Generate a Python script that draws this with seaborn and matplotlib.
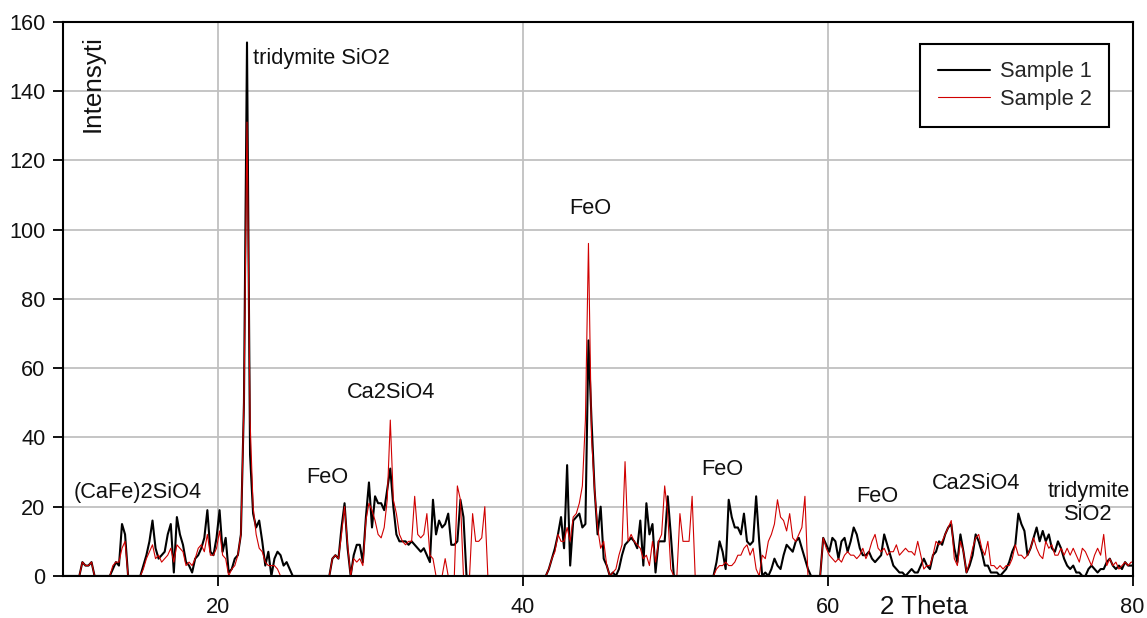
import numpy as np
import pandas as pd
import matplotlib
matplotlib.use("Agg")
import matplotlib.pyplot as plt
import seaborn as sns

# Scan grid (degrees 2θ, 0.2° step)
two_theta = np.round(np.arange(9.9, 80.11, 0.2), 1)

# Diffracted intensity, one value per grid step (rows of ten cover 2° each)
sample_1 = [
    0,
    0, 0, 0, 0, 0, 4, 3, 3, 4, 0,             # 10.1-11.9
    0, 0, 0, 0, 0, 2, 4, 3, 15, 12,           # 12.1-13.9
    0, 0, 0, 0, 0, 3, 6, 10, 16, 8,           # 14.1-15.9
    5, 6, 7, 12, 15, 1, 17, 12, 9, 4,         # 16.1-17.9
    3, 1, 5, 6, 8, 11, 19, 7, 6, 11,          # 18.1-19.9
    19, 7, 11, 1, 2, 5, 6, 12, 50, 154,       # 20.1-21.9
    35, 18, 14, 16, 10, 3, 7, 0, 5, 7,        # 22.1-23.9
    6, 3, 4, 2, 0, 0, 0, 0, 0, 0,             # 24.1-25.9
    0, 0, 0, 0, 0, 0, 0, 5, 6, 5,             # 26.1-27.9
    14, 21, 8, 0, 6, 9, 9, 4, 17, 27,         # 28.1-29.9
    14, 23, 21, 21, 19, 25, 31, 20, 12, 10,   # 30.1-31.9
    10, 10, 9, 10, 9, 8, 7, 8, 6, 4,          # 32.1-33.9
    22, 12, 16, 14, 15, 18, 9, 9, 10, 22,     # 34.1-35.9
    17, 0, 0, 0, 0, 0, 0, 0, 0, 0,            # 36.1-37.9
    0, 0, 0, 0, 0, 0, 0, 0, 0, 0,             # 38.1-39.9
    0, 0, 0, 0, 0, 0, 0, 0, 2, 5,             # 40.1-41.9
    8, 12, 17, 8, 32, 3, 16, 17, 18, 14,      # 42.1-43.9
    15, 68, 45, 25, 12, 20, 5, 3, 0, 1,       # 44.1-45.9
    0, 2, 6, 9, 10, 11, 10, 8, 16, 3,         # 46.1-47.9
    21, 12, 15, 1, 10, 10, 10, 23, 12, 0,     # 48.1-49.9
    0, 0, 0, 0, 0, 0, 0, 0, 0, 0,             # 50.1-51.9
    0, 0, 0, 4, 10, 7, 2, 22, 17, 14,         # 52.1-53.9
    14, 12, 18, 10, 9, 10, 23, 10, 0, 1,      # 54.1-55.9
    0, 2, 5, 3, 2, 6, 9, 8, 7, 10,            # 56.1-57.9
    11, 8, 5, 2, 0, 0, 0, 0, 11, 9,           # 58.1-59.9
    7, 11, 10, 5, 10, 11, 7, 10, 14, 12,      # 60.1-61.9
    8, 6, 6, 7, 5, 4, 5, 6, 12, 9,            # 62.1-63.9
    6, 3, 2, 1, 1, 0, 1, 2, 1, 1,             # 64.1-65.9
    3, 5, 3, 2, 6, 7, 10, 9, 12, 14,          # 66.1-67.9
    15, 8, 4, 12, 7, 1, 3, 6, 12, 10,         # 68.1-69.9
    7, 3, 3, 1, 1, 1, 0, 1, 2, 4,             # 70.1-71.9
    7, 9, 18, 15, 13, 6, 8, 11, 14, 10,       # 72.1-73.9
    13, 10, 12, 8, 7, 10, 8, 5, 3, 2,         # 74.1-75.9
    3, 1, 1, 0, 0, 2, 3, 2, 1, 2,             # 76.1-77.9
    2, 4, 5, 3, 2, 3, 2, 4, 3, 3,             # 78.1-79.9
    3,
]

sample_2 = [
    0,
    0, 0, 0, 0, 0, 4, 3, 3, 4, 0,             # 10.1-11.9
    0, 0, 0, 0, 0, 3, 4, 4, 8, 10,            # 12.1-13.9
    0, 0, 0, 0, 0, 2, 5, 7, 9, 5,             # 14.1-15.9
    6, 4, 5, 6, 8, 4, 9, 8, 7, 3,             # 16.1-17.9
    4, 3, 5, 8, 9, 7, 12, 6, 6, 8,            # 18.1-19.9
    13, 6, 5, 0, 2, 3, 6, 12, 50, 131,        # 20.1-21.9
    45, 20, 12, 8, 7, 4, 3, 3, 3, 2,          # 22.1-23.9
    0, 0, 0, 0, 0, 0, 0, 0, 0, 0,             # 24.1-25.9
    0, 0, 0, 0, 0, 0, 0, 5, 6, 5,             # 26.1-27.9
    12, 20, 9, 0, 5, 4, 5, 3, 16, 21,         # 28.1-29.9
    19, 16, 12, 11, 14, 22, 45, 22, 18, 12,   # 30.1-31.9
    10, 9, 10, 10, 23, 12, 11, 12, 18, 6,     # 32.1-33.9
    5, 0, 0, 0, 5, 0, 0, 0, 26, 22,           # 34.1-35.9
    0, 0, 0, 18, 10, 10, 11, 20, 0, 0,        # 36.1-37.9
    0, 0, 0, 0, 0, 0, 0, 0, 0, 0,             # 38.1-39.9
    0, 0, 0, 0, 0, 0, 0, 0, 2, 5,             # 40.1-41.9
    7, 12, 10, 10, 14, 10, 17, 18, 21, 26,    # 42.1-43.9
    45, 96, 40, 25, 14, 8, 10, 3, 0, 1,       # 44.1-45.9
    2, 6, 9, 33, 10, 12, 10, 9, 8, 5,         # 46.1-47.9
    6, 3, 10, 4, 10, 12, 26, 18, 2, 0,        # 48.1-49.9
    0, 18, 10, 10, 10, 23, 0, 0, 0, 0,        # 50.1-51.9
    0, 0, 0, 2, 3, 3, 4, 3, 3, 4,             # 52.1-53.9
    6, 6, 8, 9, 6, 8, 2, 0, 6, 5,             # 54.1-55.9
    10, 12, 15, 22, 17, 16, 13, 18, 11, 10,   # 56.1-57.9
    12, 14, 23, 0, 0, 0, 0, 0, 11, 8,         # 58.1-59.9
    6, 5, 4, 5, 4, 6, 7, 6, 6, 5,             # 60.1-61.9
    6, 8, 5, 7, 10, 12, 8, 7, 8, 6,           # 62.1-63.9
    7, 7, 9, 6, 7, 8, 7, 7, 6, 10,            # 64.1-65.9
    6, 2, 3, 3, 6, 10, 9, 10, 12, 14,         # 66.1-67.9
    16, 5, 3, 10, 7, 1, 4, 8, 11, 12,         # 68.1-69.9
    8, 6, 10, 3, 3, 2, 3, 2, 3, 3,            # 70.1-71.9
    5, 9, 6, 6, 5, 6, 8, 11, 8, 6,            # 72.1-73.9
    5, 10, 8, 9, 6, 6, 8, 6, 8, 6,            # 74.1-75.9
    8, 6, 4, 8, 7, 5, 3, 6, 8, 6,             # 76.1-77.9
    12, 3, 5, 3, 4, 2, 3, 4, 3, 4,            # 78.1-79.9
    4,
]

series_names = ["Sample 1", "Sample 2"]
series_colors = ["black", "#d00000"]
series_widths = [1.5, 0.8]

# Phase labels: text, 2θ position, intensity position, alignment
phase_labels = ["tridymite SiO2", "(CaFe)2SiO4", "FeO", "Ca2SiO4", "FeO",
                "FeO", "FeO", "Ca2SiO4", "tridymite\nSiO2"]
label_x = [22.28, 14.73, 27.2, 31.37, 44.39, 53.05, 63.27, 69.75, 77.1]
label_y = [149.4, 24.0, 28.3, 53.1, 106.2, 30.6, 22.9, 26.6, 21.1]
label_ha = ["left", "center", "center", "center", "center",
            "center", "center", "center", "center"]

x_ticks = [20, 40, 60, 80]
y_ticks = [0, 20, 40, 60, 80, 100, 120, 140, 160]

sns.set_style("white")
plt.rcParams["font.family"] = ["Liberation Sans", "DejaVu Sans"]

df = pd.DataFrame({
    "two_theta": np.concatenate([two_theta, two_theta]),
    "intensity": np.concatenate([sample_1, sample_2]),
    "sample": [series_names[0]] * len(two_theta) + [series_names[1]] * len(two_theta),
})

fig = plt.figure(figsize=(11.47, 6.18), dpi=100)
ax = fig.add_axes([0.0552, 0.068, 0.9323, 0.8969])

for name, color, lw in zip(series_names, series_colors, series_widths):
    sns.lineplot(data=df[df["sample"] == name], x="two_theta", y="intensity",
                 color=color, linewidth=lw, label=name, errorbar=None, ax=ax)

ax.set_xlim(9.85, 80)
ax.set_ylim(0, 160)
ax.set_xticks(x_ticks)
ax.set_yticks(y_ticks)
ax.set_xlabel("")
ax.set_ylabel("")

ax.grid(True, color="#c0c0c0", linewidth=1.3)
ax.set_axisbelow(True)
for spine in ax.spines.values():
    spine.set_color("black")
    spine.set_linewidth(1.5)

ax.tick_params(axis="both", which="major", direction="out", length=7, width=1.3,
               color="black", labelsize=15.7, labelcolor="#111111",
               bottom=True, left=True)
ax.tick_params(axis="x", pad=8)
ax.tick_params(axis="y", pad=6)

for txt, x, y, ha in zip(phase_labels, label_x, label_y, label_ha):
    ax.text(x, y, txt, ha=ha, va="center", fontsize=15.7, color="#111111",
            linespacing=1.1)

ax.text(11.78, 156.2, "Intensyti", rotation=90, ha="center", va="top",
        fontsize=18.7, color="#111111")
ax.text(66.3, -8.9, "2 Theta", ha="center", va="center", fontsize=18.7,
        color="#111111", clip_on=False)

leg = ax.legend(loc="upper right", bbox_to_anchor=(0.978, 0.96), frameon=True,
                fancybox=False, edgecolor="black", framealpha=1, fontsize=15.7,
                handlelength=2.4, handletextpad=0.45, borderpad=0.8,
                labelspacing=0.3, borderaxespad=0)
leg.get_frame().set_linewidth(1.5)

fig.savefig("out.png", dpi=100)
